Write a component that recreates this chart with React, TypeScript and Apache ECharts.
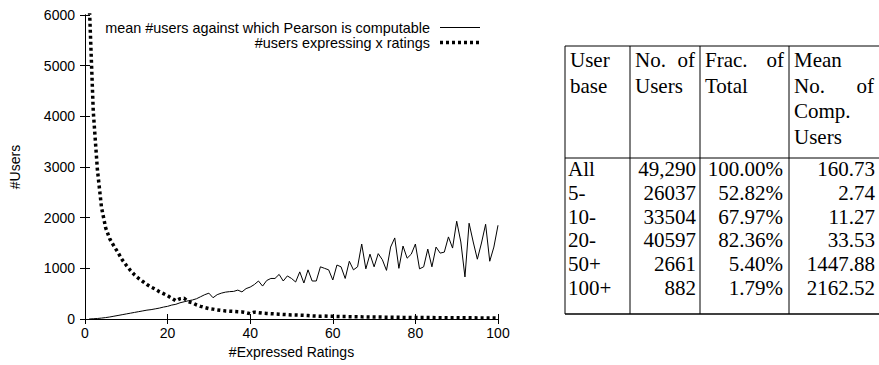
import React, { useEffect, useRef } from "react";
import * as echarts from "echarts";

const ratings: number[] = Array.from({ length: 100 }, (_, i) => i + 1);

const meanComputable: number[] = [
  0, 5, 10, 18, 28, 40, 55, 70, 85, 100,
  115, 130, 145, 160, 175, 185, 200, 215, 235, 250,
  275, 290, 320, 340, 360, 375, 400, 440, 480, 510,
  420, 480, 510, 530, 540, 545, 570, 535, 600, 630,
  680, 750, 650, 760, 800, 800, 880, 750, 850, 800,
  730, 930, 710, 970, 750, 750, 1030, 1000, 970, 770,
  1065, 1030, 800, 1140, 970, 1030, 1480, 990, 1280, 1030,
  1290, 1170, 960, 1420, 1600, 1000, 1440, 1200, 1280, 1480,
  990, 1030, 1380, 1030, 1420, 1300, 1320, 1620, 1400, 1930,
  1520, 830, 1890, 1520, 1180, 1500, 1870, 1140, 1420, 1850,
];

const usersExpressing: number[] = [
  6300, 4100, 2950, 2200, 1800, 1580, 1440, 1310, 1170, 1060,
  960, 870, 800, 740, 680, 630, 590, 540, 500, 460,
  410, 360, 400, 410, 340, 320, 280, 250, 225, 205,
  195, 180, 170, 160, 155, 150, 145, 140, 125, 105,
  135, 125, 115, 110, 105, 100, 95, 90, 85, 80,
  78, 75, 72, 68, 62, 58, 55, 60, 55, 52,
  50, 48, 47, 46, 45, 44, 42, 41, 40, 39,
  38, 37, 36, 35, 34, 33, 32, 31, 30, 30,
  29, 29, 28, 28, 27, 27, 26, 26, 25, 25,
  24, 24, 23, 23, 22, 22, 21, 21, 20, 20,
];

const seriesNames = [
  "mean #users against which Pearson is computable",
  "#users expressing x ratings",
];

// table
const tableHeader: string[][] = [
  ["User", "base"],
  ["No. of", "Users"],
  ["Frac. of", "Total"],
  ["Mean", "No. of", "Comp.", "Users"],
];
const userBase: string[] = ["All", "5-", "10-", "20-", "50+", "100+"];
const numUsers: string[] = ["49,290", "26037", "33504", "40597", "2661", "882"];
const fracTotal: string[] = ["100.00%", "52.82%", "67.97%", "82.36%", "5.40%", "1.79%"];
const meanComp: string[] = ["160.73", "2.74", "11.27", "33.53", "1447.88", "2162.52"];

const SANS = '"Liberation Sans", Arial, Helvetica, sans-serif';
const SERIF = '"Liberation Serif", "Times New Roman", serif';

const lineStyles = [
  { color: "#000", width: 1, type: "solid" as any },
  { color: "#000", width: 3.5, type: [3, 3] as any },
];

function buildLegend(): any[] {
  const els: any[] = [];
  seriesNames.forEach((name, i) => {
    const y = 27.5 + i * 15;
    els.push({
      type: "text",
      x: 430,
      y,
      silent: true,
      style: {
        text: name,
        font: `14.4px ${SANS}`,
        fill: "#000",
        align: "right",
        verticalAlign: "middle",
      },
    });
    els.push({
      type: "line",
      silent: true,
      shape: { x1: 440, y1: y, x2: 480, y2: y },
      style: {
        stroke: "#000",
        lineWidth: lineStyles[i].width,
        lineDash: Array.isArray(lineStyles[i].type) ? lineStyles[i].type : null,
      },
    });
  });
  return els;
}

function buildTable(): any[] {
  const colX = [565, 630, 700, 789, 884];
  const top = 46;
  const headBottom = 158;
  const bottom = 314;
  const headY0 = 60;
  const headStep = 25.5;
  const rowY0 = 169;
  const rowStep = 23.8;
  const font = `21px ${SERIF}`;
  const els: any[] = [];
  const line = (x1: number, y1: number, x2: number, y2: number, w = 1) =>
    els.push({
      type: "line",
      shape: { x1, y1, x2, y2 },
      style: { stroke: "#000", lineWidth: w },
      silent: true,
    });
  line(colX[0], top, colX[4], top);
  line(colX[0], headBottom, colX[4], headBottom);
  line(colX[0], bottom, colX[4], bottom, 1.5);
  colX.forEach((x) => line(x, top, x, bottom));
  const text = (t: string, x: number, y: number, align: string) =>
    els.push({
      type: "text",
      x,
      y,
      silent: true,
      style: { text: t, font, fill: "#000", align, verticalAlign: "middle" },
    });
  tableHeader.forEach((lines, c) => {
    const l = colX[c] + 5;
    const r = colX[c + 1] - 5;
    lines.forEach((ln, k) => {
      const y = headY0 + k * headStep;
      const words = ln.split(" ");
      if (words.length > 1) {
        text(words[0], l, y, "left");
        text(words[words.length - 1], c === 3 ? 874 : r, y, "right");
      } else {
        text(ln, l, y, "left");
      }
    });
  });
  userBase.forEach((u, i) => {
    const y = rowY0 + i * rowStep;
    text(u, colX[0] + 3, y, "left");
    text(numUsers[i], 696, y, "right");
    text(fracTotal[i], 783, y, "right");
    text(meanComp[i], 875, y, "right");
  });
  return els;
}

export default function App() {
  const ref = useRef<HTMLDivElement>(null);
  useEffect(() => {
    document.body.style.margin = "0";
    const chart = echarts.init(ref.current!, undefined, { renderer: "svg" });
    const axisCommon = {
      axisLine: { lineStyle: { color: "#000", width: 1 } },
      axisTick: { inside: true, length: 5, lineStyle: { color: "#000" } },
      splitLine: { show: false },
    };
    chart.setOption({
      animation: false,
      backgroundColor: "#fff",
      textStyle: { fontFamily: SANS },
      grid: { left: 85, right: 381, top: 15, bottom: 46 },
      xAxis: [
        {
          type: "value",
          min: 0,
          max: 100,
          interval: 20,
          name: "#Expressed Ratings",
          nameLocation: "middle",
          nameGap: 26,
          nameTextStyle: { fontSize: 14, color: "#000", fontFamily: SANS },
          axisLabel: { fontSize: 14, color: "#000", margin: 7, fontFamily: SANS },
          ...axisCommon,
        },
        {
          type: "value",
          position: "top",
          min: 0,
          max: 100,
          interval: 20,
          axisLabel: { show: false },
          ...axisCommon,
        },
      ],
      yAxis: [
        {
          type: "value",
          min: 0,
          max: 6000,
          interval: 1000,
          name: "#Users",
          nameLocation: "middle",
          nameGap: 63,
          nameTextStyle: { fontSize: 14, color: "#000", fontFamily: SANS },
          axisLabel: {
            fontSize: 14,
            color: "#000",
            margin: 10,
            fontFamily: SANS,
            formatter: (v: number) => String(v),
          },
          ...axisCommon,
        },
        {
          type: "value",
          position: "right",
          min: 0,
          max: 6000,
          interval: 1000,
          axisLabel: { show: false },
          ...axisCommon,
        },
      ],
      series: [
        {
          name: seriesNames[0],
          type: "line",
          symbol: "none",
          data: ratings.map((x, i) => [x, meanComputable[i]]),
          lineStyle: lineStyles[0],
          itemStyle: { color: "#000" },
        },
        {
          name: seriesNames[1],
          type: "line",
          symbol: "none",
          data: ratings.map((x, i) => [x, usersExpressing[i]]),
          lineStyle: lineStyles[1],
          itemStyle: { color: "#000" },
        },
      ],
      graphic: [...buildLegend(), ...buildTable()],
    });
    return () => chart.dispose();
  }, []);
  return <div ref={ref} style={{ width: 879, height: 365 }} />;
}
